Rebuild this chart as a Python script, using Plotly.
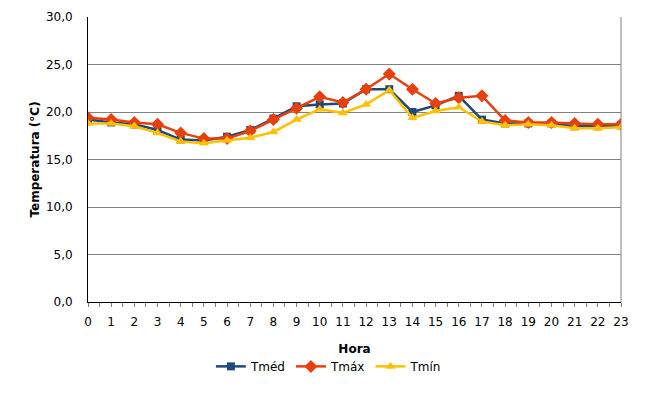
import plotly.graph_objects as go

# hourly temperatures (°C)
horas = list(range(24))
tmed = [19.2, 18.9, 18.7, 18.1, 17.1, 17.0, 17.4, 18.1, 19.3, 20.6, 20.8, 20.9,
        22.4, 22.4, 20.0, 20.7, 21.7, 19.2, 18.8, 18.8, 18.8, 18.5, 18.5, 18.6]
tmax = [19.4, 19.2, 18.9, 18.7, 17.8, 17.2, 17.2, 18.0, 19.2, 20.4, 21.6, 21.0,
        22.4, 24.0, 22.4, 20.9, 21.5, 21.7, 19.1, 18.9, 18.9, 18.8, 18.7, 18.7]
tmin = [18.8, 18.8, 18.5, 17.8, 16.9, 16.7, 17.0, 17.3, 17.9, 19.2, 20.3, 19.9,
        20.8, 22.3, 19.4, 20.1, 20.5, 19.0, 18.6, 18.7, 18.6, 18.3, 18.3, 18.4]

fig = go.Figure()
fig.add_trace(go.Scatter(x=horas, y=tmed, name='Tméd', mode='lines+markers',
                         line=dict(color='#1F497D', width=2.5),
                         marker=dict(symbol='square', size=8, color='#1F497D')))
fig.add_trace(go.Scatter(x=horas, y=tmax, name='Tmáx', mode='lines+markers',
                         line=dict(color='#E8400C', width=2.5),
                         marker=dict(symbol='diamond', size=10, color='#E8400C')))
fig.add_trace(go.Scatter(x=horas, y=tmin, name='Tmín', mode='lines+markers',
                         line=dict(color='#FFC000', width=2.5),
                         marker=dict(symbol='triangle-up', size=9, color='#FFC000')))

# the page body adds 8px on the left/top, margins compensate for that
fig.update_layout(
    width=666, height=400,
    margin=dict(l=80, r=53, t=9, b=106),
    paper_bgcolor='white', plot_bgcolor='white',
    font=dict(family='DejaVu Sans, Verdana', size=12, color='black'),
    legend=dict(orientation='h', x=0.452, xanchor='center', y=-0.175, yanchor='top',
                font=dict(size=12), itemwidth=30, tracegroupgap=0),
    showlegend=True,
    separators=',.',
)
fig.update_xaxes(
    range=[0, 23], tickmode='linear', dtick=1, tick0=0,
    showgrid=False, showline=True, linecolor='black', linewidth=1,
    ticks='outside', ticklen=4, tickcolor='gray', ticklabelstandoff=5,
    minor=dict(dtick=0.5, ticks='outside', ticklen=4, tickcolor='gray'),
    title=dict(text='<b>Hora</b>', font=dict(size=12), standoff=16),
    zeroline=False, automargin=False,
)
fig.update_yaxes(
    range=[0, 30], dtick=5, tickformat='.1f',
    showgrid=True, gridcolor='#808080', gridwidth=1,
    showline=True, linecolor='black', linewidth=1,
    ticks='', ticklabelstandoff=12,
    title=dict(text='<b>Temperatura (°C)</b>', font=dict(size=12), standoff=3),
    zeroline=False, automargin=False,
)
# right border of plot area
fig.add_shape(type='line', xref='paper', yref='paper', x0=1, x1=1, y0=0, y1=1,
              line=dict(color='#808080', width=1))

fig.write_html("out.html")
